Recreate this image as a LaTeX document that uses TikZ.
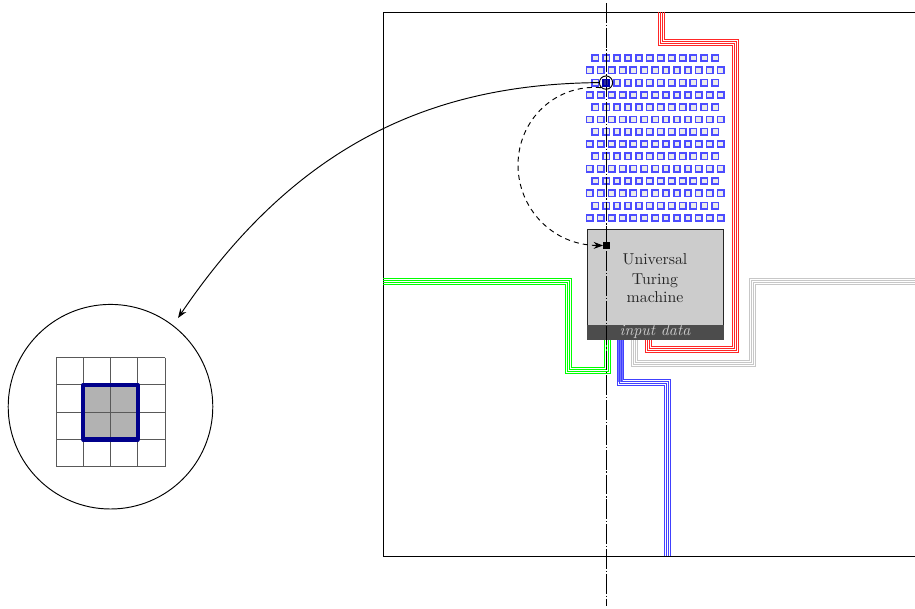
\documentclass[tikz,border=0pt]{standalone}
\usetikzlibrary{arrows.meta}
\tikzset{
  x=0.6325pt,y=-0.6325pt,
  frame/.style={line width=0.6pt,black},
  axisline/.style={line width=0.6pt,black,dash pattern=on 12.5pt off 1.2pt on 0.8pt off 1.2pt},
  wire/.style={line width=0.55pt},
  cell/.style={draw=blue!70!white,fill=black!8,line width=1.05pt,minimum size=4pt,inner sep=0pt,outer sep=0pt},
  hotcell/.style={draw=blue!70!black,fill=blue!50!black,fill opacity=0.8,line width=1.05pt,minimum size=4pt,inner sep=0pt},
  ringnode/.style={circle,draw=black,line width=0.6pt,minimum size=8.4pt,inner sep=0pt},
  utm/.style={draw=black!85,fill=black!20,line width=0.6pt,inner sep=0pt,outer sep=0pt,minimum width=86pt,minimum height=69pt},
  tape/.style={draw=black!70,fill=black!70,line width=0.3pt,inner sep=0pt,outer sep=0pt,minimum width=86pt,minimum height=8.6pt,text=black!20},
  gridline/.style={black!65,line width=0.6pt},
  bigcircle/.style={circle,draw=black,line width=0.6pt,minimum size=129.4pt,inner sep=0pt},
  tip/.style={-{Stealth[length=6pt,width=4.4pt]}},
}
\definecolor{wirered}{rgb}{1,0.15,0.15}
\definecolor{wireblue}{rgb}{0.25,0.25,1}
\begin{document}
\begin{tikzpicture}
\useasboundingbox (0,0) rectangle (915,608);
% main frame
\draw[frame] (915,12) -- (383,12) -- (383,556) -- (915,556);
% wire bundles
\draw[line width=3.6pt,blue!55] (620,339) -- (620,382);
\foreach \d in {0,2,4,6}{
  \draw[wire,wirered] (658.5+\d,12) -- (658.5+\d,45.5-\d) -- (732.5+\d,45.5-\d) -- (732.5+\d,346.5+\d) -- (651.5-\d,346.5+\d) -- (651.5-\d,339);
  \draw[wire,green] (383,284.5-\d) -- (565.5+\d,284.5-\d) -- (565.5+\d,373.5-\d) -- (610.5-\d,373.5-\d) -- (610.5-\d,339);
  \draw[wire,black!22] (631.5+\d,339) -- (631.5+\d,366.5-\d) -- (755.5-\d,366.5-\d) -- (755.5-\d,284.5-\d) -- (915,284.5-\d);
  \draw[wire,wireblue] (617.5+\d,339) -- (617.5+\d,385.5-\d) -- (664.5+\d,385.5-\d) -- (664.5+\d,556);
}
% cells
\foreach \r in {0,...,13}{
  \pgfmathtruncatemacro{\odd}{mod(\r,2)}
  \ifnum\odd=0
    \foreach \c in {0,...,11}{\node[cell] (c\r-\c) at (595.3+10.9*\c,58+12.3*\r) {};}
  \else
    \foreach \c in {0,...,12}{\node[cell] (c\r-\c) at (589.8+10.9*\c,58+12.3*\r) {};}
  \fi
}
% machine
\node[utm] (machine) at (655,284.5) {};
\node[tape] (tape) at (655,332) {\itshape input data};
\node[text=black!85,align=center,inner sep=0pt] (label) at (655,278) {Universal\\[0.6pt]Turing\\[-0.6pt]machine};
% axis
\coordinate (axtop) at (606,3);
\coordinate (axbot) at (606,606);
\draw[axisline] (axtop) -- (axbot);
% highlighted cell and target
\node[hotcell] (hot) at (606,82.6) {};
\node[ringnode] (ring) at (606,82.6) {};
\node[draw=black,fill=black,minimum size=3.9pt,inner sep=0pt] (target) at (606.5,245.5) {};
% zoom circle
\node[bigcircle] (zoomc) at (110.5,406.7) {};
\fill[black!30] (83.25,385) rectangle (137.75,439.5);
\foreach \v in {56,83.25,110.5,137.75,165} \draw[gridline] (\v,357.7) -- (\v,466.7);
\foreach \v in {357.7,384.95,412.2,439.45,466.7} \draw[gridline] (56,\v) -- (165,\v);
\draw[draw={rgb,255:red,0;green,0;blue,139},line width=2.6pt,line join=round] (83.25,384.95) rectangle (137.75,439.45);
% connectors
\draw[line width=0.6pt,tip] (ring.west) .. controls (440,84) and (300,138) .. (178,318);
\draw[line width=0.6pt,dash pattern=on 3.2pt off 2.6pt,tip] (ring.south west) .. controls (555,84) and (518,120) .. (518,165) .. controls (518,208) and (552,245) .. (target.west);
\end{tikzpicture}
\end{document}
